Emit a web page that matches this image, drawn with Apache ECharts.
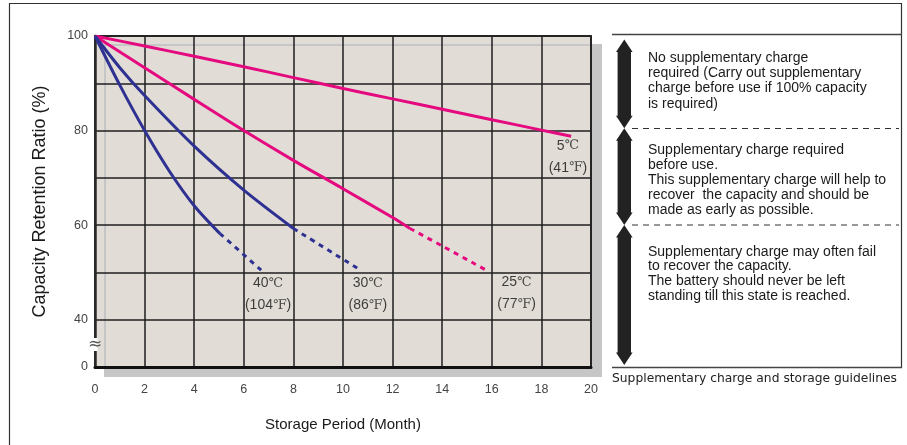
<!DOCTYPE html>
<html><head><meta charset="utf-8">
<script src="https://cdn.jsdelivr.net/npm/echarts@6/dist/echarts.min.js"></script>
<style>html,body{margin:0;padding:0;background:#fff}#c{width:907px;height:445px}</style>
</head><body><div id="c"></div>
<script>
// ---- data ----
const months5 = [0,2,4,6,8,10,12,14,16,18,19.2];
const ratio5  = [100,97.9,95.7,93.5,91.2,88.9,86.7,84.5,82.3,80.1,78.8];
const months25 = [0,2,4,6,8,10,12,12.7];
const ratio25  = [100,93.3,86.6,80,73.7,67.7,61.6,59.3];
const months25Dash = [12.7,14,15.8];
const ratio25Dash  = [59.3,55.6,50.4];
const months30 = [0,1,2,4,6,8];
const ratio30  = [100,93.3,87.4,76.7,67.4,59.3];
const months30Dash = [8,10.7];
const ratio30Dash  = [59.3,50.5];
const months40 = [0,1,2,3,4,5.04];
const ratio40  = [100,89.6,80,71.4,64.1,58.2];
const months40Dash = [5.04,6.7];
const ratio40Dash  = [58.2,50.5];

const xTicks = [0,2,4,6,8,10,12,14,16,18,20];
const yTickValues = [30,40,60,80,100];
const yTickLabels = ['0','40','60','80','100'];

const tempC = ['40','30','25','5'];
const tempF = ['104','86','77','41'];
const tempLabelX = [6.98,11.0,17.0,19.07];
const tempLabelY = [45.4,45.4,45.6,74.4];

const panelTexts = [
  'No supplementary charge\nrequired (Carry out supplementary\ncharge before use if 100% capacity\nis required)',
  'Supplementary charge required\nbefore use.\nThis supplementary charge will help to\nrecover  the capacity and should be\nmade as early as possible.',
  'Supplementary charge may often fail\nto recover the capacity.\nThe battery should never be left\nstanding till this state is reached.'
];
const caption = 'Supplementary charge and storage guidelines';

// ---- build ----
const pair = (xs, ys) => xs.map((x, i) => [x, ys[i]]);
const PINK = '#e5097f', BLUE = '#2e3192';
const SANS = 'Liberation Sans, Arial, sans-serif';

function lineSeries(name, xs, ys, color, dashed) {
  return {
    name, type: 'line', data: pair(xs, ys), symbol: 'none', smooth: 0.3,
    lineStyle: { color, width: 3, type: dashed ? [5, 5] : 'solid', cap: 'butt' },
    z: 5, silent: true
  };
}

const labelData = tempC.map((c, i) => [tempLabelX[i], tempLabelY[i], i]);

const chart = echarts.init(document.getElementById('c'), null, { renderer: 'canvas' });

function arrow(top, bottom) {
  const cx = 624.3, hh = 8.3, hb = 6.7, hl = 12.5;
  return {
    type: 'polygon', silent: true, z: 10,
    shape: { points: [[cx, top], [cx + hh, top + hl], [cx + hb, top + hl], [cx + hb, bottom - hl], [cx + hh, bottom - hl],
      [cx, bottom], [cx - hh, bottom - hl], [cx - hb, bottom - hl], [cx - hb, top + hl], [cx - hh, top + hl]] },
    style: { fill: '#222' }
  };
}
function hline(x1, x2, y, dash, color, w) {
  return { type: 'line', silent: true, z: 10, shape: { x1, y1: y, x2, y2: y },
    style: { stroke: color || '#333', lineWidth: w || 1, lineDash: dash || null } };
}
function vline(x, y1, y2, color, w) {
  return { type: 'line', silent: true, z: 10, shape: { x1: x, y1, x2: x, y2 },
    style: { stroke: color || '#333', lineWidth: w || 1 } };
}
function ptext(x, y, text, size, family, lh, fill) {
  return { type: 'text', silent: true, z: 10, x, y,
    style: { text, fill: fill || '#1a1a1a', fontSize: size, fontFamily: family, lineHeight: lh, verticalAlign: 'top', align: 'left' } };
}

chart.setOption({
  animation: false,
  backgroundColor: '#ffffff',
  grid: {
    left: 95, top: 36, right: 316, bottom: 78,
    show: true, backgroundColor: '#e1ddd6', borderColor: '#3a3a3a', borderWidth: 2,
    shadowColor: '#c6c6c6', shadowBlur: 0, shadowOffsetX: 10, shadowOffsetY: 9
  },
  xAxis: {
    type: 'value', min: xTicks[0], max: xTicks[xTicks.length - 1], interval: 2,
    name: 'Storage Period (Month)', nameLocation: 'middle', nameGap: 50,
    nameTextStyle: { fontSize: 15, color: '#1a1a1a', fontFamily: SANS },
    axisLine: { show: true, onZero: false, lineStyle: { color: '#111', width: 3 } },
    axisTick: { show: false },
    axisLabel: { margin: 16, fontSize: 12.5, color: '#444', fontFamily: SANS },
    splitLine: { show: true, lineStyle: { color: '#1e1e1e', width: 1.5 } }
  },
  yAxis: {
    type: 'value', min: 30, max: 100, interval: 10,
    name: 'Capacity Retention Ratio (%)', nameLocation: 'middle', nameGap: 46, nameRotate: 90,
    nameTextStyle: { fontSize: 18, color: '#1a1a1a', fontFamily: SANS },
    axisLine: { show: true, onZero: false, lineStyle: { color: '#2a2a2a', width: 2.5 } },
    axisTick: { show: false },
    axisLabel: {
      margin: 7, fontSize: 12.5, color: '#444', fontFamily: SANS,
      formatter: v => { const i = yTickValues.indexOf(v); return i >= 0 ? yTickLabels[i] : ''; }
    },
    splitLine: { show: true, lineStyle: { color: '#1e1e1e', width: 1.5 } }
  },
  series: [
    lineSeries('5℃', months5, ratio5, PINK, false),
    lineSeries('25℃', months25, ratio25, PINK, false),
    lineSeries('25℃ est', months25Dash, ratio25Dash, PINK, true),
    lineSeries('30℃', months30, ratio30, BLUE, false),
    lineSeries('30℃ est', months30Dash, ratio30Dash, BLUE, true),
    lineSeries('40℃', months40, ratio40, BLUE, false),
    lineSeries('40℃ est', months40Dash, ratio40Dash, BLUE, true),
    {
      type: 'scatter', data: labelData, symbolSize: 1, itemStyle: { color: 'rgba(0,0,0,0)' }, silent: true, z: 6,
      encode: { x: 0, y: 1 },
      label: {
        show: true, position: [0.5, 0.5], align: 'center', verticalAlign: 'middle',
        color: '#111', fontFamily: SANS, fontSize: 14, textBorderWidth: 0, lineHeight: 22,
        formatter: p => {
          const i = p.value[2];
          return '{n|' + tempC[i] + '}{u|℃}\n{n|(' + tempF[i] + '}{u|℉}{n|)}';
        },
        rich: {
          n: { fontSize: 14, color: '#111', fontFamily: SANS, lineHeight: 22, textBorderWidth: 0 },
          u: { fontSize: 13, color: '#222', fontFamily: 'Liberation Serif, DejaVu Serif, serif', lineHeight: 22, textBorderWidth: 0 }
        }
      }
    }
  ],
  graphic: [
    // outer frame
    vline(9.5, 3, 445, '#333', 1.2),
    hline(9, 902, 3.5, null, '#333', 1.2),
    vline(901.5, 3, 368, '#333', 1.2),
    // axis break mark
    { type: 'rect', silent: true, z: 20, shape: { x: 92.5, y: 338, width: 5, height: 13 }, style: { fill: '#fff' } },
    { type: 'text', silent: true, z: 21, x: 95, y: 345,
      style: { text: '≈', fontSize: 17, fill: '#555', align: 'center', verticalAlign: 'middle', fontFamily: 'DejaVu Serif, serif' } },
    // right panel
    hline(612, 902, 34.5, null, '#444', 1.5),
    hline(612, 902, 367.5, null, '#444', 1.5),
    hline(632, 899, 128.5, [6, 5], '#333', 1),
    hline(632, 899, 225, [6, 5], '#333', 1),
    arrow(39.5, 128.3),
    arrow(128.3, 225),
    arrow(225, 365),
    ptext(648, 50.6, panelTexts[0], 14, SANS, 15.2),
    ptext(648, 143.1, panelTexts[1], 14, SANS, 14.8),
    ptext(648, 244.3, panelTexts[2], 14, SANS, 14.8),
    ptext(612, 372, caption, 12.3, 'DejaVu Sans, sans-serif', 14, '#222')
  ]
});
</script></body></html>
